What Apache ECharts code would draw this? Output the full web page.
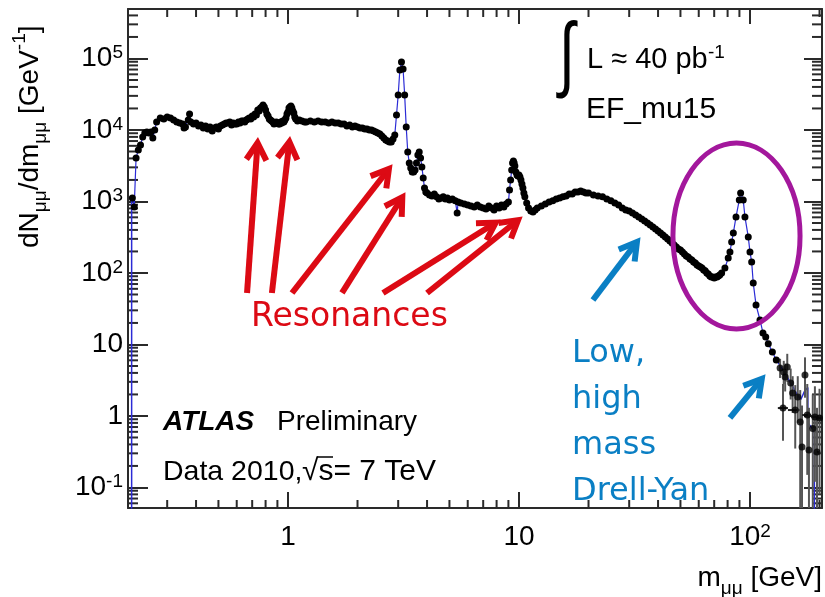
<!DOCTYPE html>
<html>
<head>
<meta charset="utf-8">
<script src="https://cdn.jsdelivr.net/npm/echarts@6/dist/echarts.min.js"></script>
<style>
  html, body { margin: 0; padding: 0; background: #ffffff; }
  #chart { width: 825px; height: 597px; }
</style>
</head>
<body>
<div id="chart"></div>
<script>
// Dimuon invariant mass spectrum, 2010 data (EF_mu15 trigger)

// Measured spectrum: bin centre [GeV] and dN/dm [GeV^-1]
const massData = [
  0.212, 0.216, 0.220, 0.225, 0.230, 0.235, 0.240, 0.245, 0.250, 0.255,
  0.260, 0.265, 0.270, 0.280, 0.290, 0.300, 0.310, 0.320, 0.330, 0.340,
  0.350, 0.355, 0.360, 0.370, 0.375, 0.380, 0.390, 0.400,
  0.41, 0.42, 0.43, 0.44, 0.45, 0.46, 0.47, 0.48, 0.49, 0.50,
  0.51, 0.52, 0.53, 0.54, 0.55, 0.56, 0.57, 0.58, 0.59, 0.60,
  0.61, 0.62, 0.63, 0.64, 0.65, 0.66, 0.67, 0.68, 0.69, 0.70,
  0.71, 0.72, 0.73, 0.74, 0.75, 0.76, 0.77, 0.78, 0.79, 0.80,
  0.81, 0.82, 0.83, 0.84, 0.85, 0.86, 0.87, 0.88, 0.89, 0.90,
  0.91, 0.92, 0.93, 0.94, 0.95, 0.96, 0.97, 0.98, 0.99,
  1.00, 1.01, 1.02, 1.03, 1.04, 1.05, 1.06, 1.07, 1.08,
  1.10, 1.12, 1.15, 1.18, 1.20,
  1.25, 1.30, 1.35, 1.40, 1.45, 1.50, 1.55, 1.60, 1.65, 1.70,
  1.75, 1.80, 1.85, 1.90, 1.95, 2.00, 2.05, 2.10, 2.15, 2.20,
  2.25, 2.30, 2.35, 2.40, 2.45, 2.50, 2.55, 2.60, 2.65, 2.70,
  2.75, 2.80, 2.85, 2.90, 2.95,
  3.00, 3.05, 3.10, 3.15, 3.20, 3.25, 3.30, 3.35, 3.40, 3.45,
  3.50, 3.55, 3.60, 3.65, 3.70, 3.75, 3.80, 3.85, 3.90, 3.95,
  4.0, 4.1, 4.2, 4.3, 4.4, 4.5, 4.6, 4.7, 4.8, 4.9, 5.0,
  5.15, 5.3, 5.4, 5.45,
  5.6, 5.8, 6.0, 6.2, 6.4, 6.6, 6.8, 7.0, 7.2, 7.4, 7.6, 7.8, 8.0, 8.2, 8.4, 8.6, 8.8, 9.0,
  9.1, 9.2, 9.3, 9.38, 9.46, 9.53, 9.6, 9.7, 9.8, 9.9,
  10.0, 10.1, 10.2, 10.3, 10.4, 10.5, 10.6, 10.8, 11.0, 11.25,
  11.5, 11.75, 12.0, 12.5, 13.0, 13.5, 14.0, 14.5, 15.0, 15.5,
  16.0, 16.5, 17.0, 17.5, 18.0, 18.5, 19.0, 19.5,
  20, 21, 22, 23, 24, 25, 26, 27, 28, 29,
  30, 31, 32, 33, 34, 35, 36, 37, 38, 39,
  40, 41, 42, 43, 44, 45, 46, 47, 48, 49,
  50, 51, 52, 53, 54, 55, 56, 57, 58, 59,
  60, 61, 62, 63, 64, 65, 66, 67, 68, 69,
  70, 71, 72, 73, 74,
  75.4, 77.9, 80.5, 81.9, 83.3, 84.7, 87.0, 89.9, 91.1, 93.5,
  95.1, 98.3, 100, 101.7, 103.3, 106.2, 110.5, 113.8, 117, 120,
  125, 130
];
const yieldData = [
  1120, 837, 4060, 5250, 6170, 7980, 9080, 9380, 9080, 9380,
  7730, 10000, 12940, 14710, 14250, 15200, 14710, 13800, 12940, 12530,
  12130, 10670, 11010, 13800, 16740, 12940, 12130, 12530,
  11370, 11750, 10670, 11370, 10330, 11010, 9680, 10670, 11010, 10330,
  11370, 11750, 12130, 12530, 12530, 12940, 11750, 12530, 12130, 12130,
  12940, 12530, 13360, 13360, 12940, 13800, 14250, 14710, 14250, 15690,
  15200, 16740, 16210, 19040, 18430, 20300, 20970, 22360, 20970, 19040,
  16740, 15690, 14250, 13800, 13360, 12940, 12130, 12530, 12940, 12530,
  12130, 12130, 12940, 12530, 13360, 12940, 13800, 14710, 16740,
  17850, 20300, 20970, 21650, 20300, 18430, 17280, 15200, 14250,
  13360, 13800, 13360, 12940, 12940,
  13360, 12940, 13360, 12940, 12940, 12530, 12940, 12530, 12530, 12130,
  12130, 11370, 11750, 11010, 11370, 11010, 10670, 10670, 10330, 10330,
  10000, 10000, 9680, 9380, 9080, 8790, 8240, 7730, 7250, 7020,
  6800, 6800, 7490, 8510, 16210,
  30850, 68990, 89260, 71250, 30850, 11010, 4920, 3450, 2940, 2590,
  2590, 2760, 3450, 4460, 4920, 4060, 3040, 2130, 1540, 1360,
  1310, 1230, 1190, 1270, 1160, 1080, 1120, 1160, 1080, 1120, 1050,
  1080, 1020, 690, 983,
  952, 922, 893, 864, 837, 893, 837, 810, 785, 864, 810, 760, 864, 810, 893, 837, 922, 980,
  1450, 2000, 2760, 3450, 3680, 3450, 3140, 2590, 2350, 2270,
  2350, 2200, 2000, 1760, 1540, 1310, 1160, 952, 810, 736,
  712, 760, 810, 864, 922, 983, 1020, 1080, 1120, 1160,
  1190, 1270, 1270, 1360, 1360, 1400, 1360, 1310,
  1310, 1230, 1190, 1160, 1080, 1020, 952, 893, 810, 760,
  736, 690, 647, 607, 569, 533, 500, 469, 440, 412,
  386, 362, 340, 319, 299, 280, 263, 246, 231, 217,
  210, 197, 184, 173, 167, 157, 152, 142, 138, 129,
  125, 121, 117, 110, 107, 100, 96.8, 90.8, 87.9, 87.9,
  85.1, 87.9, 87.9, 90.8, 93.8,
  100, 117, 162, 197, 271, 362, 607, 1050, 1310, 1050,
  607, 319, 197, 142, 72.4, 35.7, 22.0, 14.5, 12.7, 10.2,
  7.85, 6.07
];

// High-mass tail: points with statistical error bars and bin widths
const tailMass    = [135, 139, 140, 142, 145, 150, 153, 157, 161, 165, 168, 173, 177, 180, 187, 191, 195, 200];
const tailYield   = [4.69, 1.29, 4.12, 3.51, 4.84, 2.89, 2.10, 1.21, 1.84, 0.82, 0.368, 3.74, 1.03, 0.334, 0.669, 0.968, 0.314, 0.937];
const tailLow     = [3.4, 0.45, 2.8, 2.2, 3.0, 1.7, 1.1, 0.35, 0.8, 0.01, 0.01, 1.8, 0.15, 0.01, 0.01, 0.12, 0.01, 0.08];
const tailHigh    = [6.3, 2.8, 5.9, 5.4, 7.4, 4.6, 3.6, 2.7, 3.6, 2.3, 1.4, 6.6, 2.8, 1.3, 2.0, 2.6, 1.3, 2.4];
const tailBinLow  = [135, 132, 140, 142, 145, 150, 153, 146, 161, 165, 168, 173, 168, 180, 187, 184, 195, 197];
const tailBinHigh = [135, 146, 140, 142, 145, 150, 153, 168, 161, 165, 168, 173, 184, 180, 187, 197, 200, 205];

// Simulation histogram where it shows outside the data points
const mcEdgeMass  = [0.2105, 0.2105, 0.212];
const mcEdgeYield = [0.01, 1150, 1120];
const mcTailMass  = [130, 136, 142, 148, 154, 160, 166, 172, 178, 178, 184, 190, 190];
const mcTailYield = [6.1, 4.9, 3.9, 3.1, 2.5, 2.0, 1.7, 2.2, 2.5, 0.8, 0.7, 0.6, 0.01];

// Resonance labels
const peakLabelText  = ['ω/ρ', 'φ', 'J/ψ', "ψ'", '{g|Υ}(1S)', '{g|Υ}(2S)', 'Z'];
const peakLabelMass  = [0.671, 1.05, 3.18, 3.92, 9.61, 13.6, 93.3];
const peakLabelYield = [32900, 32900, 116000, 7980, 6370, 3240, 2130];

// Axis ranges
const xMin = 0.203, xMax = 205;
const yMin = 0.0516, yMax = 4.92e5;

const frameColor = '#2a2a2a';
const sans = 'Liberation Sans';

const minorXTicks = [];
for (let d = -1; d <= 2; d++) {
  for (let k = 2; k <= 9; k++) {
    const v = k * Math.pow(10, d);
    if (v > xMin * 1.01 && v < xMax * 0.99) minorXTicks.push(v);
  }
}
const minorYTicks = [];
for (let d = -2; d <= 5; d++) {
  for (let k = 2; k <= 9; k++) {
    const v = k * Math.pow(10, d);
    if (v > yMin * 1.01 && v < yMax * 0.99) minorYTicks.push(v);
  }
}

function powLabel(v) {
  const e = Math.round(Math.log10(v));
  if (e === 0) return '{b|1}';
  if (e === 1) return '{b|10}';
  return '{b|10}{e|' + e + '}';
}

const labelRich = {
  b: { fontFamily: sans, fontSize: 28, lineHeight: 30, color: '#000', verticalAlign: 'middle' },
  e: { fontFamily: sans, fontSize: 19, lineHeight: 19, color: '#000', verticalAlign: 'top' }
};

function renderMinorTicks(params, api) {
  const cs = params.coordSys;
  const left = cs.x, right = cs.x + cs.width, top = cs.y, bottom = cs.y + cs.height;
  const children = [];
  const line = (x1, y1, x2, y2) => children.push({
    type: 'line', shape: { x1, y1, x2, y2 },
    style: { stroke: frameColor, lineWidth: 2 }
  });
  minorXTicks.forEach(v => {
    const x = api.coord([v, 1])[0];
    line(x, bottom, x, bottom - 8);
    line(x, top, x, top + 8);
  });
  minorYTicks.forEach(v => {
    const y = api.coord([1, v])[1];
    line(left, y, left + 10, y);
    line(right, y, right - 10, y);
  });
  return { type: 'group', children };
}

function renderErrorBar(params, api) {
  const cs = params.coordSys;
  const top = cs.y, bottom = cs.y + cs.height, right = cs.x + cs.width;
  const m = api.value(0), v = api.value(1);
  const pLo = api.coord([m, api.value(2)]);
  const pHi = api.coord([m, api.value(3)]);
  const children = [{
    type: 'line',
    shape: { x1: pLo[0], y1: Math.min(pLo[1], bottom), x2: pHi[0], y2: Math.max(pHi[1], top) },
    style: { stroke: '#555', lineWidth: 2 }
  }];
  const ml = api.value(4), mh = api.value(5);
  if (mh > ml) {
    const a = api.coord([ml, v]), b = api.coord([mh, v]);
    children.push({
      type: 'line',
      shape: { x1: a[0], y1: a[1], x2: Math.min(b[0], right), y2: b[1] },
      style: { stroke: '#222', lineWidth: 2 }
    });
  }
  return { type: 'group', children };
}

const chart = echarts.init(document.getElementById('chart'), null, { renderer: 'canvas' });

const axisCommon = {
  type: 'log', logBase: 10,
  splitLine: { show: false },
  axisLine: { show: true, lineStyle: { color: frameColor, width: 2 } },
  minorTick: { show: false }
};

const option = {
  animation: false,
  backgroundColor: '#ffffff',
  grid: { left: 128, right: 3, top: 9, bottom: 89, containLabel: false, outerBoundsMode: 'none' },
  xAxis: [
    Object.assign({}, axisCommon, {
      position: 'bottom', min: xMin, max: xMax,
      axisTick: { show: true, inside: true, length: 16, lineStyle: { color: frameColor, width: 2 } },
      axisLabel: { show: true, margin: 14, showMinLabel: false, showMaxLabel: false,
        formatter: powLabel, rich: labelRich }
    }),
    Object.assign({}, axisCommon, {
      position: 'top', min: xMin, max: xMax,
      axisTick: { show: true, inside: true, length: 15, lineStyle: { color: frameColor, width: 2 } },
      axisLabel: { show: false }
    })
  ],
  yAxis: [
    Object.assign({}, axisCommon, {
      position: 'left', min: yMin, max: yMax,
      axisTick: { show: true, inside: true, length: 20, lineStyle: { color: frameColor, width: 2 } },
      axisLabel: { show: true, margin: 5, showMinLabel: false, showMaxLabel: false,
        formatter: powLabel, rich: labelRich }
    }),
    Object.assign({}, axisCommon, {
      position: 'right', min: yMin, max: yMax,
      axisTick: { show: true, inside: true, length: 18, lineStyle: { color: frameColor, width: 2 } },
      axisLabel: { show: false }
    })
  ],
  series: [
    {
      type: 'custom', name: 'minor ticks', silent: true, z: 1,
      data: [[1, 1]], renderItem: renderMinorTicks, clip: false
    },
    {
      type: 'line', name: 'MC edge', z: 2, symbol: 'none', clip: true,
      data: mcEdgeMass.map((m, i) => [m, mcEdgeYield[i]]),
      lineStyle: { color: '#2b2bd6', width: 1.5 }
    },
    {
      type: 'line', name: 'MC tail', z: 2, symbol: 'none', clip: true,
      data: mcTailMass.map((m, i) => [m, mcTailYield[i]]),
      lineStyle: { color: '#2b2bd6', width: 1.5 }
    },
    {
      type: 'custom', name: 'errors', z: 3, clip: true,
      data: tailMass.map((m, i) => [m, tailYield[i], tailLow[i], tailHigh[i], tailBinLow[i], tailBinHigh[i]]),
      encode: { x: 0, y: 1 },
      renderItem: renderErrorBar
    },
    {
      type: 'line', name: 'Data 2010', z: 4, clip: true,
      data: massData.map((m, i) => [m, yieldData[i]]),
      symbol: 'circle', symbolSize: 7, showSymbol: true, showAllSymbol: true,
      itemStyle: { color: '#000' },
      lineStyle: { color: '#2b2bd6', width: 1.2 }
    },
    {
      type: 'scatter', name: 'tail', z: 4,
      data: tailMass.map((m, i) => [m, tailYield[i]]),
      symbol: 'circle', symbolSize: 7, itemStyle: { color: '#000' }
    },
    {
      type: 'scatter', name: 'labels', z: 5, silent: true,
      data: peakLabelMass.map((m, i) => [m, peakLabelYield[i]]),
      symbolSize: 1, itemStyle: { opacity: 0 },
      label: {
        show: true, position: 'inside', color: '#111',
        fontFamily: sans, fontSize: 20,
        formatter: p => peakLabelText[p.dataIndex],
        rich: { g: { fontFamily: 'Liberation Serif', fontSize: 22, color: '#111' } }
      }
    }
  ]
};

chart.setOption(option);

// Annotation overlays, anchored in data coordinates
const toPx = p => chart.convertToPixel({ xAxisIndex: 0, yAxisIndex: 0 }, p);

const redArrows = [
  [[0.665, 52.5], [0.741, 7730]],
  [[0.852, 52.5], [1.02, 7990]],
  [[1.041, 52.5], [2.82, 3240]],
  [[1.713, 52.5], [3.21, 1315]],
  [[2.578, 52.5], [8.27, 551]],
  [[4.00, 52.5], [10.3, 607]]
];
const blueArrows = [
  [[20.9, 41.9], [33.4, 309]],
  [[81.9, 0.937], [116.1, 3.74]]
];
const zEllipse = [[46.4, 6580], [164.7, 16.5]];

const red = '#dc0a14';
const blue = '#0a7fc4';

function arrow(tail, tip, color) {
  const p0 = toPx(tail), p1 = toPx(tip);
  const w = 6, headLen = 17, headHalf = 10;
  const dx = p1[0] - p0[0], dy = p1[1] - p0[1];
  const L = Math.hypot(dx, dy);
  const ux = dx / L, uy = dy / L, nx = -uy, ny = ux;
  const apex = [p1[0] - ux * 5, p1[1] - uy * 5];
  const base = [apex[0] - ux * headLen, apex[1] - uy * headLen];
  return [
    { type: 'polyline', z: 10, shape: { points: [p0, [apex[0] - ux * 3, apex[1] - uy * 3]] },
      style: { stroke: color, lineWidth: w, fill: null } },
    { type: 'polyline', z: 10,
      shape: { points: [[base[0] + nx * headHalf, base[1] + ny * headHalf], apex, [base[0] - nx * headHalf, base[1] - ny * headHalf]] },
      style: { stroke: color, lineWidth: w, fill: null, lineJoin: 'miter' } }
  ];
}

const elTL = toPx(zEllipse[0]), elBR = toPx(zEllipse[1]);

const graphics = [];
redArrows.forEach(a => graphics.push(...arrow(a[0], a[1], red)));
blueArrows.forEach(a => graphics.push(...arrow(a[0], a[1], blue)));
graphics.push({
  type: 'ellipse', z: 9,
  shape: { cx: (elTL[0] + elBR[0]) / 2, cy: (elTL[1] + elBR[1]) / 2,
           rx: (elBR[0] - elTL[0]) / 2, ry: (elBR[1] - elTL[1]) / 2 },
  style: { stroke: '#a3179c', lineWidth: 5, fill: null }
});

const textEl = (x, y, text, font, extra) => Object.assign({
  type: 'text', x, y, z: 11,
  style: Object.assign({ text, font, fill: '#000', align: 'left', verticalAlign: 'middle' }, extra || {})
});

graphics.push(
  textEl(163, 422, 'ATLAS', 'italic bold 28px "Liberation Sans"'),
  textEl(277, 422, 'Preliminary', '28px "Liberation Sans"'),
  textEl(163, 472, 'Data 2010,', '28.5px "Liberation Sans"'),
  textEl(302, 472, '√s= 7 TeV', '30px "Liberation Sans"'),
  { type: 'line', z: 11, shape: { x1: 317, y1: 457, x2: 333, y2: 457 }, style: { stroke: '#000', lineWidth: 1.5 } },
  { type: 'text', x: 567, y: 58, z: 11, scaleX: 0.8, scaleY: 1.15,
    style: { text: '∫', font: '72px "Liberation Sans"', fill: '#000', align: 'center', verticalAlign: 'middle' } },
  textEl(587, 60, 'L ≈ 40 pb', '29px "Liberation Sans"'),
  textEl(708, 53, '-1', '19px "Liberation Sans"'),
  textEl(586, 110, 'EF_mu15', '30px "Liberation Sans"'),
  textEl(251, 317, 'Resonances', '33px "DejaVu Sans"', { fill: red }),
  textEl(572, 354, 'Low,', '32px "DejaVu Sans"', { fill: blue }),
  textEl(572, 400, 'high', '32px "DejaVu Sans"', { fill: blue }),
  textEl(572, 446, 'mass', '32px "DejaVu Sans"', { fill: blue }),
  textEl(572, 492, 'Drell-Yan', '32px "DejaVu Sans"', { fill: blue }),
  {
    type: 'text', x: 822, y: 578, z: 11,
    style: {
      text: '{n|m}{s|μμ}{n| [GeV]}', align: 'right', verticalAlign: 'middle',
      rich: {
        n: { fontFamily: sans, fontSize: 28, lineHeight: 40, verticalAlign: 'middle', fill: '#000' },
        s: { fontFamily: sans, fontSize: 19, lineHeight: 19, verticalAlign: 'bottom', fill: '#000' }
      }
    }
  },
  {
    type: 'text', x: 50, y: 248, rotation: Math.PI / 2, z: 11,
    style: {
      text: '{n|dN}{s|μμ}{n|/dm}{s|μμ}{n| [GeV}{p|-1}{n|]}', align: 'left', verticalAlign: 'bottom',
      rich: {
        n: { fontFamily: sans, fontSize: 28, lineHeight: 40, verticalAlign: 'middle', fill: '#000' },
        s: { fontFamily: sans, fontSize: 19, lineHeight: 19, verticalAlign: 'bottom', fill: '#000' },
        p: { fontFamily: sans, fontSize: 19, lineHeight: 19, verticalAlign: 'top', fill: '#000' }
      }
    }
  }
);

chart.setOption({ graphic: { elements: graphics } });
</script>
</body>
</html>
